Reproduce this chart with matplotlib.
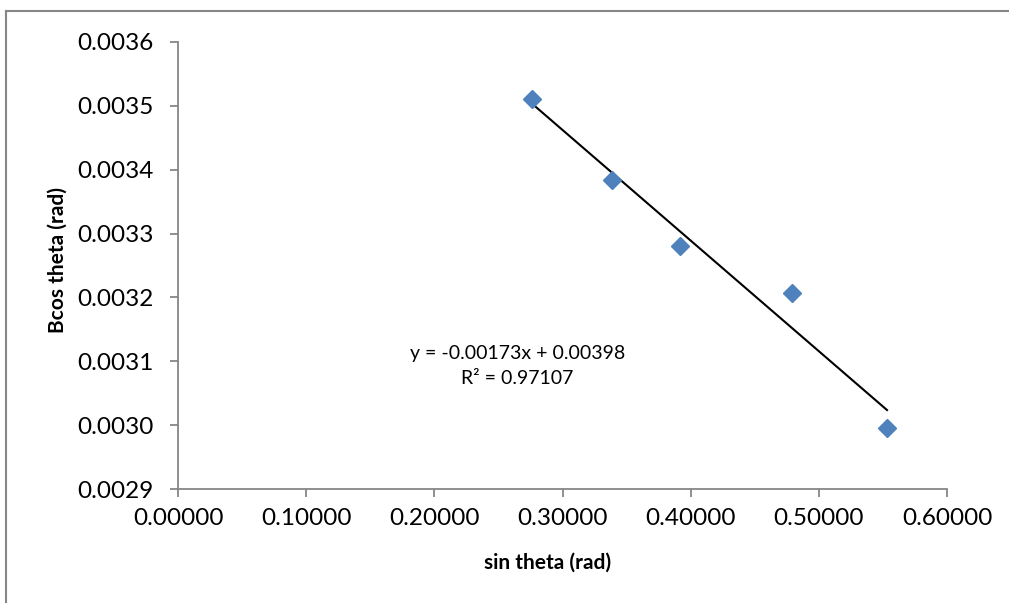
import numpy as np
import matplotlib
matplotlib.use("Agg")
import matplotlib.pyplot as plt
from matplotlib.lines import Line2D

# Data
sin_theta = [0.2762, 0.3386, 0.3917, 0.4791, 0.5532]
bcos_theta = [0.003511, 0.003384, 0.0032805, 0.003207, 0.0029955]

x_ticks = [0.0, 0.1, 0.2, 0.3, 0.4, 0.5, 0.6]
y_ticks = [0.0029, 0.0030, 0.0031, 0.0032, 0.0033, 0.0034, 0.0035, 0.0036]
equation_text = "y = -0.00173x + 0.00398\nR² = 0.97107"

plt.rcParams['font.family'] = ['Lato', 'DejaVu Sans']

fig = plt.figure(figsize=(10.09, 6.03), dpi=100)
ax = fig.add_axes([178 / 1009, 1 - 489 / 603, 769 / 1009, 447 / 603])

ax.plot(sin_theta, bcos_theta, linestyle='none', marker='D', markersize=9.5,
        color='#4F81BD', markeredgecolor='#4F81BD', zorder=3)

# linear trendline over the data range
slope, intercept = np.polyfit(sin_theta, bcos_theta, 1)
xs = np.array([min(sin_theta), max(sin_theta)])
ax.plot(xs, slope * xs + intercept, color='black', linewidth=1.5, zorder=2)

ax.text(0.441, 0.275, equation_text, transform=ax.transAxes, ha='center',
        va='center', fontsize=14, linespacing=1.55)

ax.set_xlim(0, 0.6)
ax.set_ylim(0.0029, 0.0036)
ax.set_xticks(x_ticks)
ax.set_yticks(y_ticks)
ax.set_xticklabels([f"{v:.5f}" for v in x_ticks])
ax.set_yticklabels([f"{v:.4f}" for v in y_ticks])

for side in ['top', 'right']:
    ax.spines[side].set_visible(False)
for side in ['left', 'bottom']:
    ax.spines[side].set_color('#868686')
    ax.spines[side].set_linewidth(1.3)
ax.tick_params(axis='both', direction='out', length=5.5, width=1.3,
               color='#868686', labelsize=17.5, labelcolor='black')
ax.tick_params(axis='x', pad=8)
ax.tick_params(axis='y', pad=12)

fig.text(548 / 1009, 1 - 563 / 603, "sin theta (rad)", ha='center', va='center',
         fontsize=15, fontweight='bold')
fig.text(58 / 1009, 1 - 260 / 603, "Bcos theta (rad)", ha='center', va='center',
         fontsize=15, fontweight='bold', rotation=90)

# chart area border (only top and left visible in the crop)
fig.add_artist(Line2D([5.5 / 1009, 5.5 / 1009], [0, 1 - 10.5 / 603],
                      transform=fig.transFigure, color='#868686', linewidth=1.5))
fig.add_artist(Line2D([5.5 / 1009, 1], [1 - 10.5 / 603, 1 - 10.5 / 603],
                      transform=fig.transFigure, color='#868686', linewidth=1.5))

fig.savefig('out.png', dpi=100)
